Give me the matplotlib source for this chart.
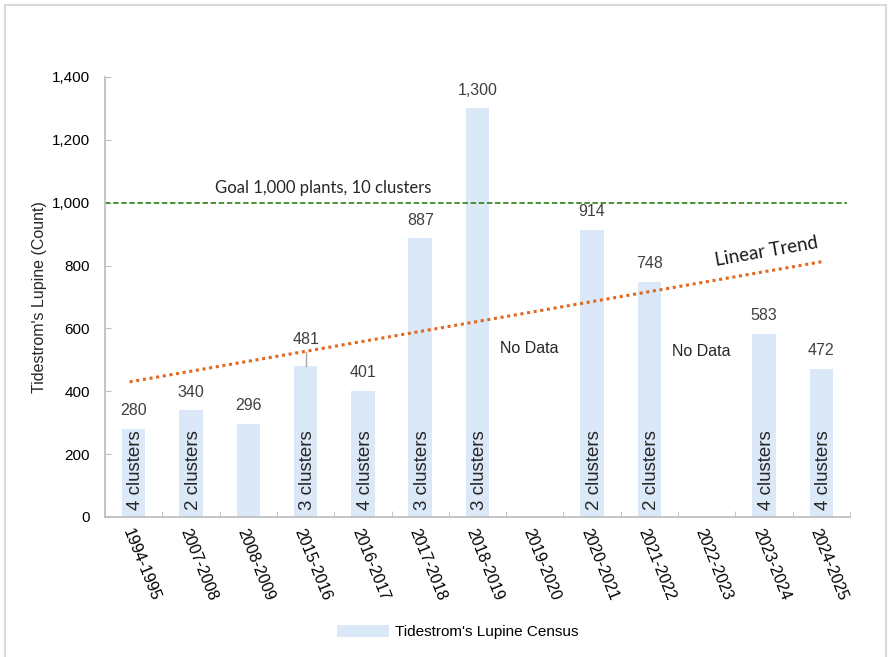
import numpy as np
import matplotlib
matplotlib.use("Agg")
import matplotlib.pyplot as plt
from matplotlib.patches import Rectangle
from matplotlib.ticker import FuncFormatter

# === Data ===
seasons = ["1994-1995", "2007-2008", "2008-2009", "2015-2016", "2016-2017",
           "2017-2018", "2018-2019", "2019-2020", "2020-2021", "2021-2022",
           "2022-2023", "2023-2024", "2024-2025"]
counts = [280, 340, 296, 481, 401, 887, 1300, np.nan, 914, 748, np.nan, 583, 472]
clusters = ["4 clusters", "2 clusters", "", "3 clusters", "4 clusters", "3 clusters",
            "3 clusters", "", "2 clusters", "2 clusters", "", "4 clusters", "4 clusters"]
goal = 1000
trend_ends = [430, 812]   # linear trend read at first and last season
no_data_y = [535, 528]

BAR_COLOR = "#DAE8F7"
TREND_COLOR = "#E2671F"
GOAL_COLOR = "#3A8A26"
AXIS_GRAY = "#BFBFBF"

plt.rcParams['font.family'] = ['Liberation Sans', 'DejaVu Sans']

fig = plt.figure(figsize=(8.89, 6.57), dpi=100)
ax = fig.add_axes([105 / 889, 1 - 517 / 657, 745 / 889, 440 / 657])

x = np.arange(len(seasons))
vals = np.array(counts, dtype=float)
have = ~np.isnan(vals)

ax.bar(x[have], vals[have], width=0.41, color=BAR_COLOR, label="Tidestrom's Lupine Census", zorder=1)

# value labels
for xi, v in zip(x[have], vals[have]):
    lift = 13
    if v == 481:
        lift = 19
        ax.plot([xi, xi], [v, 525], color="#A6A6A6", lw=1, zorder=2)
    ax.annotate(f"{int(v):,}", (xi, v), xytext=(0, lift), textcoords="offset points",
                ha="center", va="center", fontsize=11.5, color="#404040")

# cluster labels inside bars
for xi, c in zip(x, clusters):
    if c:
        ax.text(xi + 0.04, 22, c, rotation=90, ha="center", va="bottom",
                fontsize=13.5, color="#262626", zorder=3)

# no data labels
missing = x[~have]
for xi, yv in zip(missing, no_data_y):
    ax.text(xi - 0.1, yv, "No Data", ha="center", va="center", fontsize=11.5, color="#262626")

# goal line
ax.plot([-0.5, 12.45], [goal, goal], ls=(0, (3, 1.5)), color=GOAL_COLOR, lw=1.3, zorder=2)
ax.text(1.42, 1048, "Goal 1,000 plants, 10 clusters", ha="left", va="center",
        fontsize=12, family=["Lato", "DejaVu Sans"], color="#262626")

# linear trend
ax.plot([x[0] - 0.07, x[-1]], trend_ends, ls=(0, (1, 1.2)), color=TREND_COLOR, lw=2.2, zorder=2)
ax.text(11.05, 845, "Linear Trend", rotation=10, ha="center", va="center",
        fontsize=13.5, family=["Lato", "DejaVu Sans"], color="#1a1a1a")

ax.set_xlim(-0.5, 12.5)
ax.set_ylim(0, 1400)
ax.set_yticks(range(0, 1401, 200))
ax.yaxis.set_major_formatter(FuncFormatter(lambda v, p: f"{int(v):,}"))
ax.set_xticks(x)
ax.set_xticklabels(seasons, rotation=-68, ha="left", va="top", rotation_mode="anchor", fontsize=11.5)
ax.set_xticks(np.arange(-0.5, 13, 1), minor=True)
ax.tick_params(axis="x", which="major", length=0, pad=7)
ax.tick_params(axis="x", which="minor", direction="in", length=4, color=AXIS_GRAY)
ax.tick_params(axis="y", direction="in", length=4, color=AXIS_GRAY, labelsize=11, pad=11)
ax.set_ylabel("Tidestrom's Lupine (Count)", fontsize=11.5, color="#262626", labelpad=3)

for s in ["top", "right"]:
    ax.spines[s].set_visible(False)
for s in ["left", "bottom"]:
    ax.spines[s].set_color(AXIS_GRAY)
    ax.spines[s].set_linewidth(1.3)

fig.legend(loc="center", bbox_to_anchor=(458 / 889, 1 - 632 / 657), frameon=False,
           handlelength=3.4, handleheight=0.9, handletextpad=0.4,
           prop={"family": ["Liberation Sans Narrow", "Liberation Sans"], "size": 11})

# outer frame of the chart area
fig.patches.append(Rectangle((5 / 889, -0.01), 881 / 889, 1 - 5 / 657 + 0.01,
                             transform=fig.transFigure, fill=False,
                             edgecolor="#D9D9D9", lw=1.5))

fig.savefig("out.png", dpi=100)
